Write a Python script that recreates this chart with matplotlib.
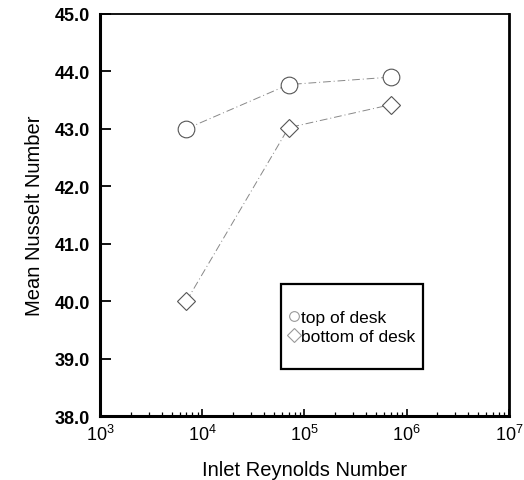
import numpy as np
import matplotlib.pyplot as plt
from matplotlib.patches import Rectangle
from matplotlib import font_manager

reynolds = [7e3, 7e4, 7e5]
nu_top = [43.0, 43.77, 43.9]
nu_bottom = [40.0, 43.02, 43.42]
labels = ['top of desk', 'bottom of desk']

names = {f.name for f in font_manager.fontManager.ttflist}
narrow = 'Liberation Sans Narrow' if 'Liberation Sans Narrow' in names else 'Liberation Sans'
plt.rcParams['font.family'] = ['Liberation Sans', 'DejaVu Sans']

fig = plt.figure(figsize=(5.24, 4.81), dpi=100)
ax = fig.add_axes([0.191, 0.133, 0.78, 0.836])

ax.plot(reynolds, nu_top, color='#888888', lw=0.7, ls=(0, (8, 3, 1, 3)),
        marker='o', ms=12, mfc='white', mec='#555555', mew=0.8, label=labels[0])
ax.plot(reynolds, nu_bottom, color='#888888', lw=0.7, ls=(0, (8, 3, 1, 3)),
        marker='D', ms=9, mfc='white', mec='#555555', mew=0.8, label=labels[1])

ax.set_xscale('log')
ax.set_xlim(1e3, 1e7)
ax.set_ylim(38, 45)
ax.set_yticks(np.arange(38, 45.1, 1.0))
ax.set_yticklabels(['%.1f' % v for v in np.arange(38, 45.1, 1.0)],
                   fontsize=13, fontweight='bold')
ax.set_xticks([1e3, 1e4, 1e5, 1e6, 1e7])
ax.set_xticklabels(['$\\mathregular{10^{%d}}$' % p for p in range(3, 8)], fontsize=13)
ax.tick_params(axis='y', direction='in', length=8, width=1.3, pad=7)
ax.tick_params(axis='x', which='major', direction='in', length=5, width=1.2, pad=6)
ax.tick_params(axis='x', which='minor', direction='in', length=3, width=0.9)

for s in ax.spines.values():
    s.set_linewidth(1.3)
ax.spines['bottom'].set_linewidth(2.2)
ax.spines['left'].set_linewidth(2.2)
ax.spines['right'].set_linewidth(2)

ax.set_xlabel('Inlet Reynolds Number', fontsize=14.5, labelpad=11)
ax.set_ylabel('Mean Nusselt Number', fontsize=14.5, labelpad=8)

leg = ax.legend(loc='center left', bbox_to_anchor=(0.437, 0.222), frameon=False,
                handlelength=0.6, handletextpad=0.1, borderpad=0.1,
                labelspacing=0.2, prop={'family': narrow, 'size': 12.5})
for h in leg.legend_handles:
    h.set_linestyle('none')
    h.set_markersize(7)
    h.set_markeredgecolor('#999999')
ax.add_patch(Rectangle((0.443, 0.117), 0.347, 0.211, transform=ax.transAxes,
                       fill=False, ec='black', lw=1.6, zorder=5))

fig.savefig('out.png', dpi=100)
